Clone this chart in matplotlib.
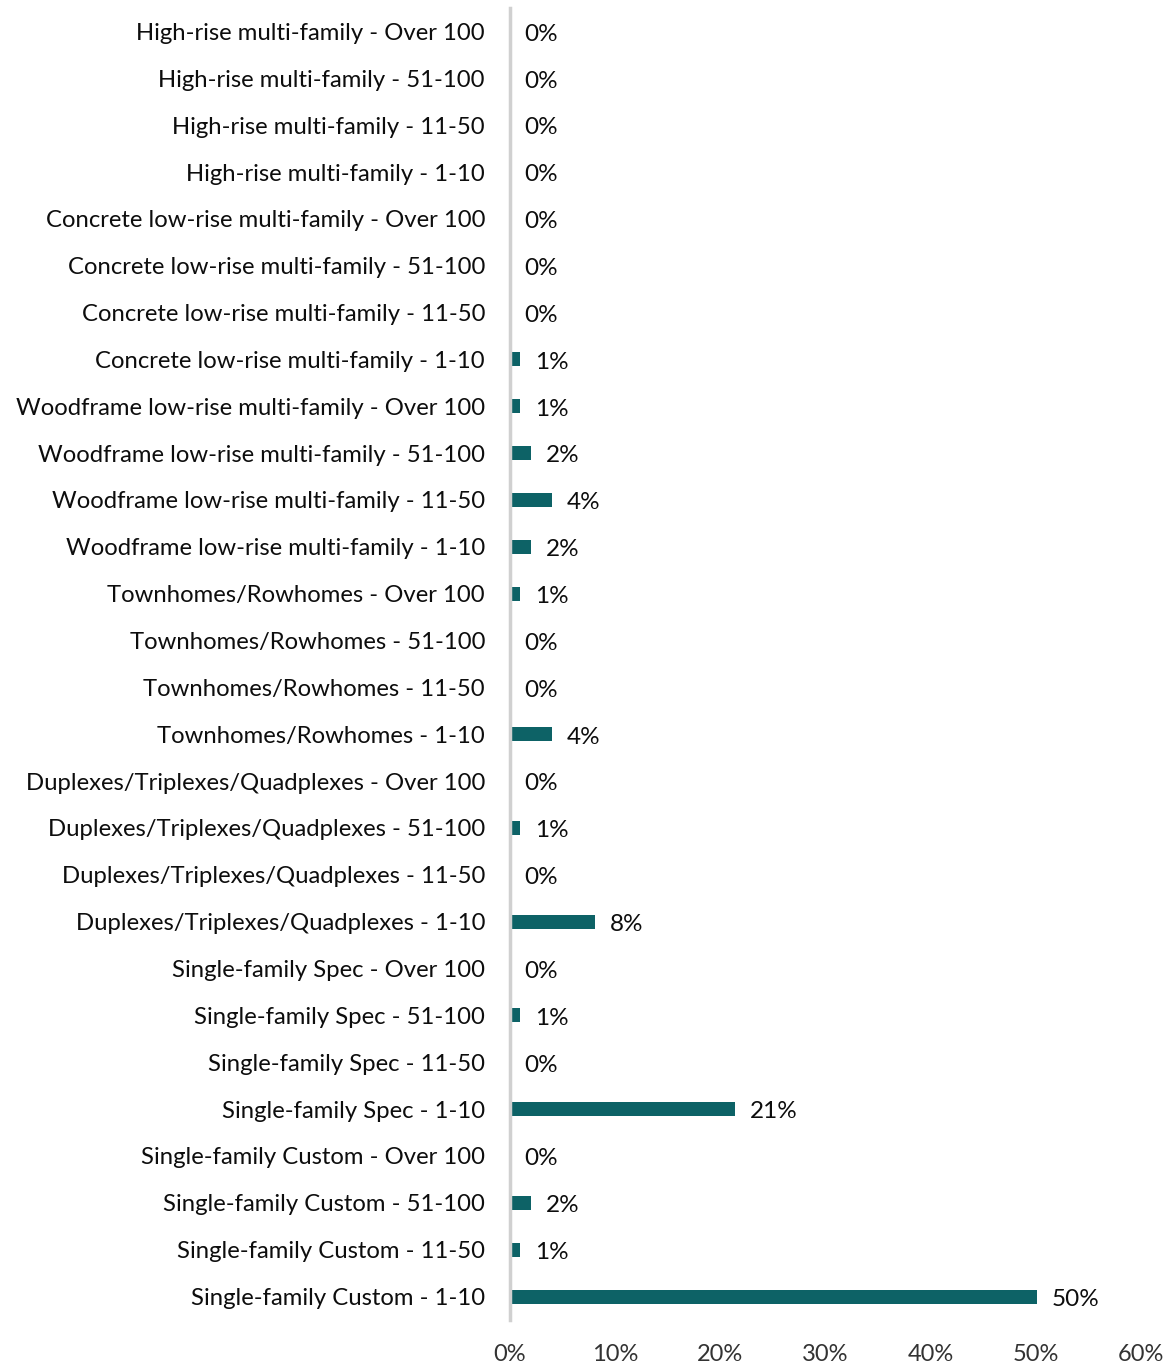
import matplotlib
matplotlib.use("Agg")
import matplotlib.pyplot as plt
from matplotlib.ticker import PercentFormatter

plt.rcParams['font.family'] = ['Lato', 'DejaVu Sans']

categories = [
    "High-rise multi-family - Over 100",
    "High-rise multi-family - 51-100",
    "High-rise multi-family - 11-50",
    "High-rise multi-family - 1-10",
    "Concrete low-rise multi-family - Over 100",
    "Concrete low-rise multi-family - 51-100",
    "Concrete low-rise multi-family - 11-50",
    "Concrete low-rise multi-family - 1-10",
    "Woodframe low-rise multi-family - Over 100",
    "Woodframe low-rise multi-family - 51-100",
    "Woodframe low-rise multi-family - 11-50",
    "Woodframe low-rise multi-family - 1-10",
    "Townhomes/Rowhomes - Over 100",
    "Townhomes/Rowhomes - 51-100",
    "Townhomes/Rowhomes - 11-50",
    "Townhomes/Rowhomes - 1-10",
    "Duplexes/Triplexes/Quadplexes - Over 100",
    "Duplexes/Triplexes/Quadplexes - 51-100",
    "Duplexes/Triplexes/Quadplexes - 11-50",
    "Duplexes/Triplexes/Quadplexes - 1-10",
    "Single-family Spec - Over 100",
    "Single-family Spec - 51-100",
    "Single-family Spec - 11-50",
    "Single-family Spec - 1-10",
    "Single-family Custom - Over 100",
    "Single-family Custom - 51-100",
    "Single-family Custom - 11-50",
    "Single-family Custom - 1-10",
]
values = [
    0.0, 0.0, 0.0, 0.0,
    0.0, 0.0, 0.0, 0.95,
    0.95, 2.0, 4.0, 2.0,
    0.95, 0.0, 0.0, 4.0,
    0.0, 0.95, 0.0, 8.1,
    0.0, 0.95, 0.0, 21.4,
    0.0, 2.0, 0.95, 50.1,
]
x_ticks = [0, 10, 20, 30, 40, 50, 60]

bar_color = "#0D6266"
text_color = "#0d0d0d"
fs = 17.2

fig = plt.figure(figsize=(11.76, 13.68), dpi=100)
ax = fig.add_axes([510/1176, 1 - 1320/1368, (1141-510)/1176, (1320-8)/1368])

y = list(range(len(categories)))[::-1]
ax.barh(y, values, height=0.30, color=bar_color)
ax.set_yticks(y)
ax.set_yticklabels(categories, fontsize=fs, color=text_color)
ax.set_ylim(-0.5, len(categories) - 0.5)
ax.set_xlim(0, 60)
ax.set_xticks(x_ticks)
ax.xaxis.set_major_formatter(PercentFormatter(100, decimals=0))
ax.tick_params(axis='x', length=0, pad=17, labelsize=17, labelcolor="#333333")
ax.tick_params(axis='y', length=0, pad=18)

for s in ['top', 'right', 'bottom']:
    ax.spines[s].set_visible(False)
ax.spines['left'].set_color("#D0D0D0")
ax.spines['left'].set_linewidth(2.5)

for yi, v in zip(y, values):
    ax.annotate(f"{round(v):d}%", xy=(v, yi), xytext=(10.5, -2), textcoords="offset points",
                va="center", ha="left", fontsize=17.5, color=text_color)

fig.savefig("out.png", dpi=100)
